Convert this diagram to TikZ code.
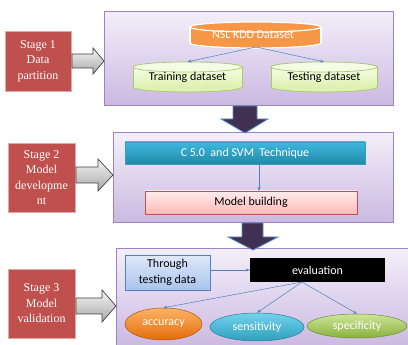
\documentclass[tikz,border=0pt]{standalone}
\usepackage{fontspec}
\setmainfont{Carlito}
\newfontfamily\stagefont{Liberation Serif}
\usetikzlibrary{shapes.geometric,arrows.meta}
\definecolor{panelTop}{HTML}{F3EFF9}
\definecolor{panelBot}{HTML}{CBB8E1}
\definecolor{panelLine}{HTML}{9D83C2}
\definecolor{stageRed}{HTML}{C0504D}
\definecolor{stageLine}{HTML}{E3A9A7}
\definecolor{grayTop}{HTML}{F4F4F4}
\definecolor{grayBot}{HTML}{A8A8A8}
\definecolor{grayLine}{HTML}{404040}
\definecolor{downFill}{HTML}{403152}
\definecolor{downLine}{HTML}{5B8BC9}
\definecolor{nslOrange}{HTML}{F79646}
\definecolor{greenTop}{HTML}{F4FCE3}
\definecolor{greenBot}{HTML}{DDF2B2}
\definecolor{greenLine}{HTML}{A9C868}
\definecolor{tealTop}{HTML}{3EB8DE}
\definecolor{tealBot}{HTML}{2389A8}
\definecolor{tealLine}{HTML}{3A9BBB}
\definecolor{pinkTop}{HTML}{FFECEC}
\definecolor{pinkBot}{HTML}{FFB8B8}
\definecolor{pinkLine}{HTML}{C0504D}
\definecolor{blueTop}{HTML}{DFE9F9}
\definecolor{blueBot}{HTML}{A9C4EB}
\definecolor{blueLine}{HTML}{4F81BD}
\definecolor{accTop}{HTML}{FBB366}
\definecolor{accBot}{HTML}{E46C0A}
\definecolor{senTop}{HTML}{74D3EC}
\definecolor{senBot}{HTML}{2E9FBE}
\definecolor{speTop}{HTML}{CDE59A}
\definecolor{speBot}{HTML}{8AB13C}
\definecolor{conn}{HTML}{4F81BD}
\tikzset{
  panel/.style={draw=panelLine, line width=1pt, top color=panelTop, bottom color=panelBot},
  stagebox/.style={draw=stageLine, line width=0.8pt, fill=stageRed, text=white,
    font=\stagefont\fontsize{12}{15.5}\selectfont, align=center, inner sep=0pt},
  sidearrow/.style={draw=grayLine, line width=0.7pt, top color=grayTop, bottom color=grayBot},
  downarrow/.style={draw=downLine, line width=0.8pt, fill=downFill},
  lbl/.style={inner sep=0pt, font=\fontsize{12}{16}\selectfont, align=center},
  link/.style={draw=conn, line width=0.5pt, -{Stealth[length=4pt,width=3pt]}},
  oval/.style={ellipse, inner sep=0pt, text=white, font=\fontsize{12}{14}\selectfont},
}
\begin{document}
\begin{tikzpicture}[x=1pt,y=-1pt]
\useasboundingbox (0,0) rectangle (408,345);

% ---------- panels ----------
\path[panel] (104,12) rectangle (393,106);
\path[panel] (113,133) rectangle (393,223);
\path[panel] (116,249) rectangle (409,348);

% ---------- down arrows ----------
\path[downarrow] (233,106) -- (257,106) -- (257,119) -- (268,119) -- (245,133) -- (221,119) -- (233,119) -- cycle;
\path[downarrow] (242,223) -- (263,223) -- (263,237) -- (278,237) -- (253,250) -- (228,237) -- (242,237) -- cycle;

% ---------- stage boxes ----------
\node[stagebox, minimum width=66pt, minimum height=60pt] (s1) at (38,61) {Stage 1\\Data\\partition};
\node[stagebox, minimum width=67pt, minimum height=69pt] (s2) at (41.5,177.5) {Stage 2\\Model\\developme\\nt};
\node[stagebox, minimum width=67pt, minimum height=69pt] (s3) at (41.5,303.5) {Stage 3\\Model\\validation};

% ---------- side arrows ----------
\path[sidearrow] (72,54) -- (93,54) -- (93,48) -- (104,61) -- (93,74) -- (93,68) -- (72,68) -- cycle;
\path[sidearrow] (76,167) -- (98,167) -- (98,159) -- (113,175) -- (98,191) -- (98,183) -- (76,183) -- cycle;
\path[sidearrow] (76,298) -- (102,298) -- (102,290) -- (116,306) -- (102,322) -- (102,314) -- (76,314) -- cycle;

% ---------- stage 1 cylinders ----------
% NSL KDD
\fill[nslOrange, draw=white, line width=1.2pt] (255.5,43) ellipse [x radius=65.5, y radius=5];
\fill[nslOrange] (190,27) rectangle (321,43);
\draw[white, line width=1.2pt] (190,27) -- (190,43) (321,27) -- (321,43);
\fill[nslOrange, draw=white, line width=1.2pt] (255.5,27) ellipse [x radius=65.5, y radius=5];
% Training
\path[draw=greenLine, line width=0.7pt, fill=greenBot] (187.5,87) ellipse [x radius=54.5, y radius=5];
\path[top color=greenTop, bottom color=greenBot] (133,67) rectangle (242,87);
\draw[greenLine, line width=0.7pt] (133,67) -- (133,87) (242,67) -- (242,87);
\path[draw=greenLine, line width=0.7pt, fill=greenTop] (187.5,67) ellipse [x radius=54.5, y radius=5];
% Testing
\path[draw=greenLine, line width=0.7pt, fill=greenBot] (324,87) ellipse [x radius=53, y radius=5];
\path[top color=greenTop, bottom color=greenBot] (271,67) rectangle (377,87);
\draw[greenLine, line width=0.7pt] (271,67) -- (271,87) (377,67) -- (377,87);
\path[draw=greenLine, line width=0.7pt, fill=greenTop] (324,67) ellipse [x radius=53, y radius=5];

\node[lbl, text=white, minimum width=131pt, minimum height=26pt] (nsl) at (253,35) {NSL KDD Dataset};
\node[lbl, text=black, minimum width=109pt, minimum height=30pt] (train) at (187.5,77) {\raisebox{-2pt}{Training dataset}};
\node[lbl, text=black, minimum width=106pt, minimum height=30pt] (test) at (324,77) {\raisebox{-2pt}{Testing dataset}};
\coordinate (nslb) at (256,47);
\draw[link] (nslb) -- (train.north);
\draw[link] (nslb) -- (test.north);

% ---------- stage 2 ----------
\node[lbl, draw=tealLine, line width=0.6pt, top color=tealTop, bottom color=tealBot, text=white,
  minimum width=240pt, minimum height=22pt] (tech) at (245,153) {C 5.0\ \ and SVM\ \ Technique};
\node[lbl, draw=pinkLine, line width=0.6pt, top color=pinkTop, bottom color=pinkBot, text=black,
  minimum width=212pt, minimum height=23pt] (build) at (251,202.5) {Model building};
\coordinate (techb) at (259,164);
\coordinate (buildt) at (259,191);
\draw[link] (techb) -- (buildt);

% ---------- stage 3 ----------
\node[lbl, draw=blueLine, line width=0.6pt, top color=blueTop, bottom color=blueBot, text=black,
  minimum width=85pt, minimum height=35pt] (thr) at (167.5,272.5) {Through\\testing data};
\node[lbl, fill=black, text=white, minimum width=135pt, minimum height=24pt] (eval) at (317.5,270) {evaluation};

\node[oval, draw=accBot!80!black, line width=0.5pt, top color=accTop, bottom color=accBot,
  minimum width=77pt, minimum height=32pt] (acc) at (163.5,324) {accuracy};
\node[oval, draw=senBot!80!black, line width=0.5pt, top color=senTop, bottom color=senBot,
  minimum width=94pt, minimum height=28pt] (sen) at (257,327) {sensitivity};
\node[oval, draw=speBot!80!black, line width=0.5pt, top color=speTop, bottom color=speBot,
  minimum width=100pt, minimum height=24pt] (spe) at (357,326) {specificity};

\draw[link] (thr.east |- eval.west) -- (eval.west);
\coordinate (evb) at (302,282);
\draw[link] (evb) -- (acc.north);
\draw[link] (evb) -- (sen.north);
\draw[link] (evb) -- (spe.north);
\end{tikzpicture}
\end{document}
